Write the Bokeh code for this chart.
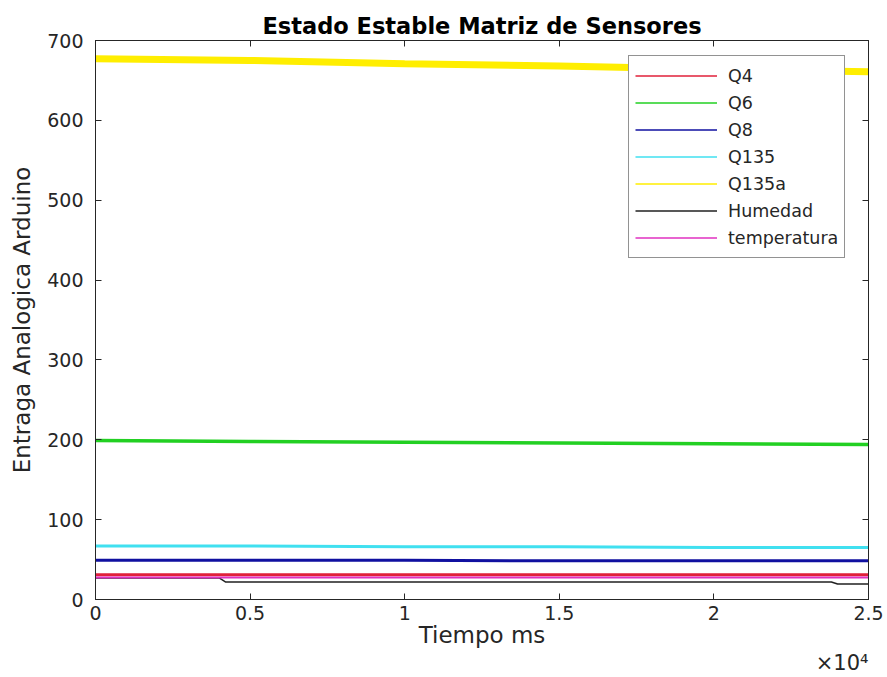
from bokeh.plotting import figure
from bokeh.models import LinearAxis, Title, Legend, LegendItem, FixedTicker, Range1d
from bokeh.embed import file_html
from bokeh.resources import INLINE

# ---- data ----
t = [0, 5000, 10000, 15000, 20000, 25000]
q4 = [31, 31, 31, 31, 31, 31]
q6 = [199, 198, 197, 196, 195, 194]
q8 = [49, 49, 49, 48.5, 48.5, 48.5]
q135 = [67, 67, 66, 66, 65, 65]
q135a = [677, 675, 671, 668, 664, 661]
hum_t = [0, 4000, 4200, 23800, 24000, 25000]
humedad = [27, 27, 22, 22, 19.5, 19.5]
temperatura = [27.5, 27.5, 27.5, 27.5, 27.5, 27.5]

x_ticks = [0, 5000, 10000, 15000, 20000, 25000]
x_tick_labels = ["0", "0.5", "1", "1.5", "2", "2.5"]
y_ticks = [0, 100, 200, 300, 400, 500, 600, 700]

FONT = "DejaVu Sans"
AX = "#262626"

p = figure(width=887, height=677, frame_width=773, frame_height=559,
           output_backend="svg", toolbar_location=None,
           x_range=Range1d(0, 25000), y_range=Range1d(0, 700),
           min_border_left=95, min_border_right=19, min_border_top=40, min_border_bottom=78)
p.background_fill_color = "white"
p.border_fill_color = "white"
p.outline_line_color = AX
p.outline_line_width = 1
p.grid.visible = False

p.title.text = "Estado Estable Matriz de Sensores"
p.title.align = "center"
p.title.text_font = FONT
p.title.text_font_size = "22.5px"
p.title.text_font_style = "bold"
p.title.text_color = "black"
p.title.offset = 0
p.title.standoff = 4

series = [
    ("Q4", t, q4, "#e0203a", 3),
    ("Q6", t, q6, "#22d022", 3.5),
    ("Q8", t, q8, "#1010a0", 3),
    ("Q135", t, q135, "#40e0f0", 3),
    ("Q135a", t, q135a, "#ffee00", 7),
    ("Humedad", hum_t, humedad, "#202020", 1.5),
    ("temperatura", t, temperatura, "#e030c0", 2),
]
items = []
for name, xs, ys, col, lw in series:
    r = p.line(xs, ys, line_color=col, line_width=lw)
    items.append((name, col, r))

# legend uses thin lines
leg_items = []
for name, col, r in items:
    lr = p.line([0, 0], [-100, -100], line_color=col, line_width=1.5)
    leg_items.append(LegendItem(label=name, renderers=[lr]))
legend = Legend(items=leg_items, location=(533, 341))
legend.label_text_font = FONT
legend.label_text_font_size = "17.5px"
legend.label_text_color = AX
legend.glyph_width = 82
legend.glyph_height = 27
legend.label_height = 27
legend.label_standoff = 11
legend.spacing = 0
legend.padding = 6
legend.margin = 0
legend.border_line_color = AX
legend.border_line_width = 1
legend.background_fill_alpha = 1
p.add_layout(legend, "center")

def style_axis(ax, show_labels=True):
    ax.ticker = FixedTicker(ticks=[])
    ax.major_tick_in = 6
    ax.major_tick_out = 0
    ax.minor_tick_line_color = None
    ax.axis_line_color = AX
    ax.major_tick_line_color = AX
    ax.major_label_text_font = FONT
    ax.major_label_text_font_size = "19px"
    ax.major_label_text_color = AX
    ax.axis_label_text_font = FONT
    ax.axis_label_text_font_size = "23px"
    ax.axis_label_text_font_style = "normal"
    ax.axis_label_text_color = AX
    if not show_labels:
        ax.major_label_text_font_size = "0px"

xa = p.xaxis[0]
style_axis(xa)
xa.ticker = FixedTicker(ticks=x_ticks)
xa.major_label_overrides = {v: s for v, s in zip(x_ticks, x_tick_labels)}
xa.major_label_standoff = 6
xa.axis_label = "Tiempo ms"
xa.axis_label_standoff = -1

ya = p.yaxis[0]
style_axis(ya)
ya.ticker = FixedTicker(ticks=y_ticks)
ya.major_label_standoff = 12
ya.axis_label = "Entraga Analogica Arduino"
ya.axis_label_standoff = 9

top = LinearAxis()
style_axis(top, False)
top.ticker = FixedTicker(ticks=x_ticks)
top.major_label_overrides = {v: "" for v in x_ticks}
p.add_layout(top, "above")

right = LinearAxis()
style_axis(right, False)
right.ticker = FixedTicker(ticks=y_ticks)
right.major_label_overrides = {v: "" for v in y_ticks}
p.add_layout(right, "right")

mult = Title(text="×10⁴", align="right", text_font=FONT, text_font_size="21px",
             text_font_style="normal", text_color=AX, offset=0, standoff=-4)
p.add_layout(mult, "below")

open("out.html", "w").write(file_html(p, INLINE))
